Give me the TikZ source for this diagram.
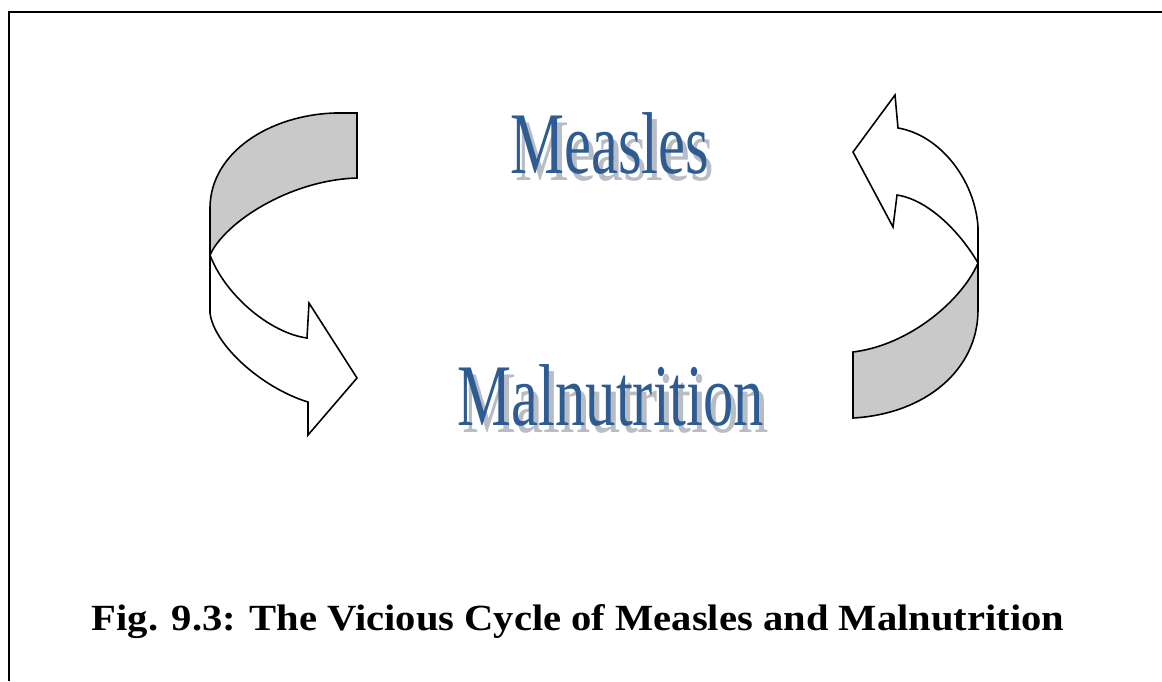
\documentclass[tikz,border=0pt]{standalone}
\usepackage{fontspec}
\setmainfont{Liberation Serif}
\newfontfamily\wordart[FakeStretch=0.69]{Liberation Serif}
\newfontfamily\capfont[FakeStretch=1.1]{Liberation Serif}
\usetikzlibrary{positioning}
\definecolor{cycblue}{HTML}{2E5C92}
\definecolor{cycshadow}{HTML}{B8BCC4}
\definecolor{cycgray}{HTML}{C9C9C9}
\tikzset{
    band/.style={draw=black,line width=0.9pt,line join=miter,fill=cycgray},
    head/.style={draw=black,line width=0.9pt,line join=miter,fill=white},
    word/.style={inner sep=0pt,anchor=base,font=\wordart\fontsize{50}{50}\selectfont},
    wordshadow/.style={word,text=cycshadow},
}

\begin{document}
\begin{tikzpicture}[x=0.02cm,y=-0.02cm]
    \useasboundingbox (0,0) rectangle (1162,681);
    % frame
    \draw[line width=1.3pt] (9,681) -- (9,12) -- (1162,12);

    % left arrow
    \draw[band] (357,113) -- (335,113) .. controls (270,115) and (211,152) .. (210,207)
        -- (210,255) .. controls (225,222) and (290,180) .. (357,178) -- cycle;
    \draw[head] (210,255) -- (210,313) .. controls (214,345) and (262,388) .. (308,402)
        -- (308,435) -- (357,378) -- (309,303) -- (307,338)
        .. controls (270,333) and (225,295) .. (210,255) -- cycle;

    % right arrow
    \draw[band] (853,418) .. controls (925,414) and (978,370) .. (978,310)
        -- (978,263) .. controls (962,300) and (910,345) .. (853,352) -- cycle;
    \draw[head] (978,263) -- (978,227) .. controls (975,180) and (940,135) .. (898,128)
        -- (895,95) -- (853,152) -- (893,227) -- (897,195)
        .. controls (930,200) and (962,235) .. (978,263) -- cycle;

    % words with their shadows
    \node[wordshadow] (measles-sh) at (615,180) {Measles};
    \node[word,text=cycblue] (measles) at (610,173) {Measles};
    \node[wordshadow] (malnut-sh) at (616,432) {Malnutrition};
    \node[word,text=cycblue] (malnut) at (611,425) {Malnutrition};

    \node[inner sep=0pt,anchor=base,font=\capfont\bfseries\fontsize{21}{21}\selectfont]
        (caption) at (578,630) {Fig. 9.3: The Vicious Cycle of Measles and Malnutrition};
\end{tikzpicture}
\end{document}
